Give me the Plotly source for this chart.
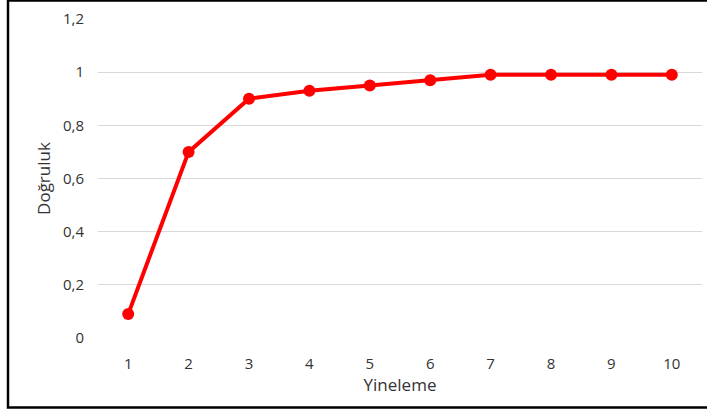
import plotly.graph_objects as go

# Accuracy per iteration
iterations = [1, 2, 3, 4, 5, 6, 7, 8, 9, 10]
accuracy = [0.09, 0.70, 0.90, 0.93, 0.95, 0.97, 0.99, 0.99, 0.99, 0.99]
y_ticks = [0, 0.2, 0.4, 0.6, 0.8, 1.0, 1.2]

font_family = "Open Sans, Liberation Sans, sans-serif"
text_color = "#333333"

fig = go.Figure(
    go.Scatter(
        x=iterations,
        y=accuracy,
        mode="lines+markers",
        line=dict(color="#ff0000", width=4),
        marker=dict(color="#ff0000", size=12),
        cliponaxis=False,
    )
)

fig.update_layout(
    width=707,
    height=412,
    margin=dict(l=98, r=5, t=19, b=74),
    paper_bgcolor="white",
    plot_bgcolor="white",
    separators=",.",
    showlegend=False,
    font=dict(family=font_family, size=15, color=text_color),
    shapes=[
        dict(
            type="rect", xref="paper", yref="paper",
            x0=-0.149, x1=1.1, y0=-0.218, y1=1.058,
            line=dict(color="black", width=2.5), layer="above",
        )
    ],
)

fig.update_xaxes(
    range=[0.5, 10.5],
    tickvals=iterations,
    tickfont=dict(size=15, color=text_color),
    showgrid=False,
    zeroline=False,
    showline=False,
    ticks="outside",
    ticklen=12,
    tickcolor="rgba(0,0,0,0)",
    title=dict(text="Yineleme", font=dict(size=17), standoff=5),
)

fig.update_yaxes(
    range=[0, 1.2],
    tickvals=y_ticks,
    tickfont=dict(size=15, color=text_color),
    showgrid=True,
    gridcolor="#d9d9d9",
    gridwidth=1,
    zeroline=False,
    showline=False,
    ticks="outside",
    ticklen=10,
    tickcolor="rgba(0,0,0,0)",
    title=dict(text="Doğruluk", font=dict(size=17), standoff=8),
)

fig.write_html("out.html")
